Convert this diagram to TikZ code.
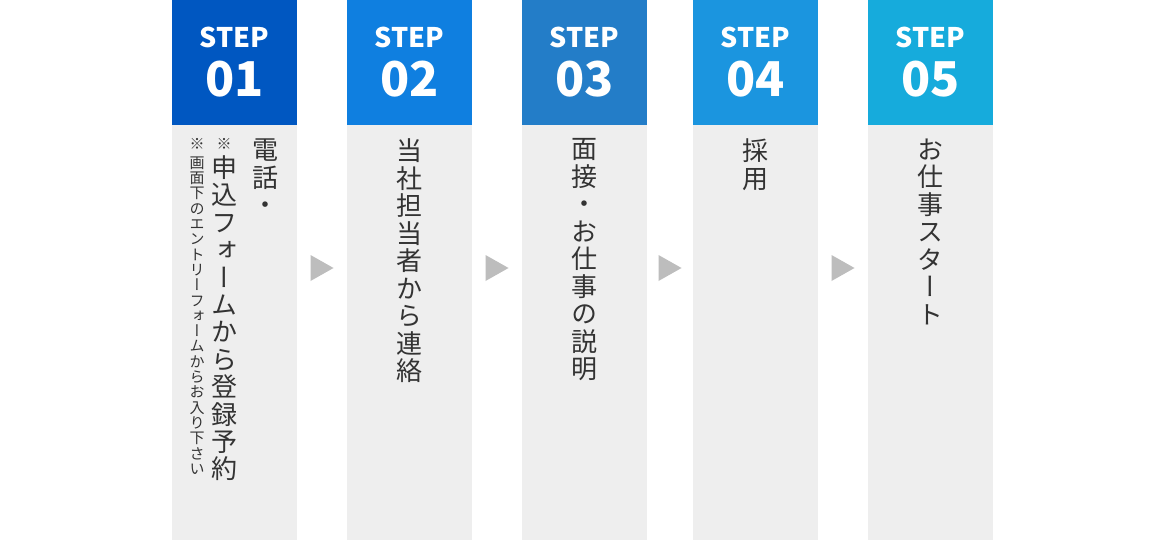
\documentclass[tikz,border=0pt]{standalone}
\usepackage{fontspec}
\usetikzlibrary{calc}
\newfontfamily\jp{Noto Sans CJK JP}
\newfontfamily\jpv{Noto Sans CJK JP}[RawFeature=+vert]
\newcommand\myvtight{\lineskiplimit=-30pt\relax}
\definecolor{cA}{HTML}{0057C1}
\definecolor{cB}{HTML}{0F7FE0}
\definecolor{cC}{HTML}{237DC8}
\definecolor{cD}{HTML}{1B95DF}
\definecolor{cE}{HTML}{16ABDC}
\definecolor{bodygray}{HTML}{EEEEEE}
\definecolor{arrowgray}{HTML}{BDBDBD}
\definecolor{txt}{HTML}{333333}
\tikzset{
  headbox/.style={minimum width=125pt, minimum height=125pt, inner sep=0pt, outer sep=0pt},
  bodybox/.style={fill=bodygray, minimum width=125pt, minimum height=415pt, inner sep=0pt, outer sep=0pt},
  steplbl/.style={font=\jp\bfseries\fontsize{27}{27}\selectfont, text=white, anchor=base, inner sep=0pt},
  numlbl/.style={font=\jp\bfseries\fontsize{48}{48}\selectfont, text=white, anchor=base, inner sep=0pt},
  vbig/.style={font=\jpv\fontsize{26}{27.5}\selectfont\myvtight, text=txt, align=center, anchor=north, inner sep=0pt},
  vbigA/.style={font=\jpv\fontsize{26}{27.4}\selectfont\myvtight, text=txt, align=center, anchor=north, inner sep=0pt},
  vsmall/.style={font=\jpv\fontsize{15}{15.3}\selectfont\myvtight, text=txt, align=center, anchor=north, inner sep=0pt},
  arrowtri/.style={fill=arrowgray, draw=none}
}
\begin{document}
\begin{tikzpicture}[x=1pt,y=-1pt]
\useasboundingbox (0,0) rectangle (1170,540);
\fill[white] (0,0) rectangle (1170,540);
% headers
\node[headbox, fill=cA] (h1) at (234.5,62.5) {};
\node[headbox, fill=cB] (h2) at (409.5,62.5) {};
\node[headbox, fill=cC] (h3) at (584.5,62.5) {};
\node[headbox, fill=cD] (h4) at (755.5,62.5) {};
\node[headbox, fill=cE] (h5) at (930.5,62.5) {};
% bodies
\node[bodybox] (b1) at (234.5,332.5) {};
\node[bodybox] (b2) at (409.5,332.5) {};
\node[bodybox] (b3) at (584.5,332.5) {};
\node[bodybox] (b4) at (755.5,332.5) {};
\node[bodybox] (b5) at (930.5,332.5) {};
% header labels
\node[steplbl] (s1) at (234.5,48) {STEP};
\node[numlbl] (n1) at (234.5,97) {01};
\node[steplbl] (s2) at (409.5,48) {STEP};
\node[numlbl] (n2) at (409.5,97) {02};
\node[steplbl] (s3) at (584.5,48) {STEP};
\node[numlbl] (n3) at (584.5,97) {03};
\node[steplbl] (s4) at (755.5,48) {STEP};
\node[numlbl] (n4) at (755.5,97) {04};
\node[steplbl] (s5) at (930.5,48) {STEP};
\node[numlbl] (n5) at (930.5,97) {05};
% step 1 texts
\node[vbigA] (t1a) at (265,139) {電\\話\\・};
\node[vsmall] (t1bm) at (224,138.5) {※};
\node[vbigA] (t1b) at (224,155.5) {申\\込\\フ\\ォ\\ー\\ム\\か\\ら\\登\\録\\予\\約};
\node[vsmall] (t1cm) at (197,138.5) {※};
\node[vsmall] (t1c) at (197,156.5) {画\\面\\下\\の\\エ\\ン\\ト\\リ\\ー\\フ\\ォ\\ー\\ム\\か\\ら\\お\\入\\り\\下\\さ\\い};
% other steps
\node[vbig] (t2) at (409.5,138.5) {当\\社\\担\\当\\者\\か\\ら\\連\\絡};
\node[vbig] (t3) at (584.5,138.5) {面\\接\\・\\お\\仕\\事\\の\\説\\明};
\node[vbig] (t4) at (755.5,138.5) {採\\用};
\node[vbig] (t5) at (930.5,138.5) {お\\仕\\事\\ス\\タ\\ー\\ト};
% arrows between steps
\coordinate (m1) at ($(h1.south east)!0.5!(h2.south west)+(0,143)$);
\coordinate (m2) at ($(h2.south east)!0.5!(h3.south west)+(0,143)$);
\coordinate (m3) at ($(h3.south east)!0.5!(h4.south west)+(0,143)$);
\coordinate (m4) at ($(h4.south east)!0.5!(h5.south west)+(0,143)$);
\foreach \m in {m1,m2,m3,m4}{
  \fill[arrowtri] ($(\m)+(-11.5,-13)$) -- ($(\m)+(11.5,0)$) -- ($(\m)+(-11.5,13)$) -- cycle;
}
\end{tikzpicture}
\end{document}
